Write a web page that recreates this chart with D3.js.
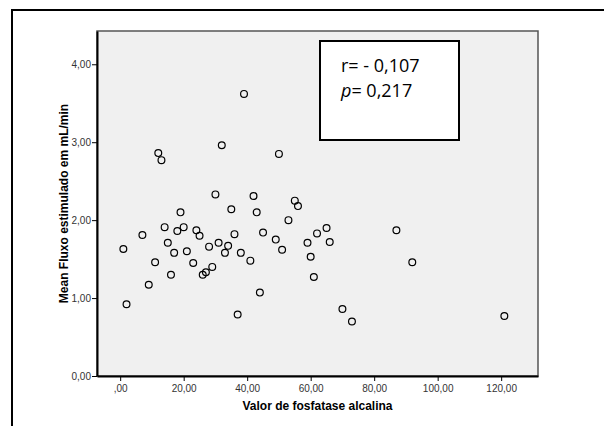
<!DOCTYPE html>
<html>
<head>
<meta charset="utf-8">
<script src="https://cdn.jsdelivr.net/npm/d3@7"></script>
<style>
  body { margin: 0; background: #fff; }
  svg { display: block; }
</style>
</head>
<body>
<svg id="chart" width="604" height="426"></svg>
<script>
// fosfatase alcalina (x) vs mean fluxo estimulado (y)
const fosfatase = [1, 2, 7, 9, 11, 12, 13, 14, 15, 16, 17, 18, 19, 20, 21, 23, 24, 25, 26, 27,
  28, 29, 30, 31, 32, 33, 34, 35, 36, 37, 38, 39, 41, 42, 43, 44, 45, 49, 50, 51,
  53, 55, 56, 59, 60, 61, 62, 65, 66, 70, 73, 87, 92, 121];
const fluxo = [1.63, 0.92, 1.81, 1.17, 1.46, 2.86, 2.77, 1.91, 1.71, 1.30, 1.58, 1.86, 2.10, 1.91, 1.60, 1.45, 1.87, 1.80, 1.30, 1.33,
  1.66, 1.40, 2.33, 1.71, 2.96, 1.58, 1.67, 2.14, 1.82, 0.79, 1.58, 3.62, 1.48, 2.31, 2.10, 1.07, 1.84, 1.75, 2.85, 1.62,
  2.00, 2.25, 2.18, 1.71, 1.53, 1.27, 1.83, 1.90, 1.72, 0.86, 0.70, 1.87, 1.46, 0.77];
const xTicks = [0, 20, 40, 60, 80, 100, 120];
const yTicks = [0, 1, 2, 3, 4];
const statLines = ['r= - 0,107', '0,217'];

const fmt = v => d3.format('.2f')(v).replace('.', ',').replace(/^0,/, v === 0 ? '0,' : ',');
const fmtY = v => d3.format('.2f')(v).replace('.', ',');

const svg = d3.select('#chart');
const plot = { left: 97, right: 538, top: 31, bottom: 376 };

const x = d3.scaleLinear().domain([-7.3, 131.6]).range([plot.left, plot.right]);
const y = d3.scaleLinear().domain([0, 4.427]).range([plot.bottom, plot.top]);

// outer frame (only top and left visible)
svg.append('path')
  .attr('d', 'M12,426 L12,10 L604,10')
  .attr('fill', 'none')
  .attr('stroke', '#000')
  .attr('stroke-width', 2);

// data area
svg.append('rect')
  .attr('x', plot.left).attr('y', plot.top)
  .attr('width', plot.right - plot.left).attr('height', plot.bottom - plot.top)
  .attr('fill', '#f0f0f0')
  .attr('stroke', '#555')
  .attr('stroke-width', 1.5);

// axes
const xAxis = svg.append('g')
  .attr('transform', `translate(0,${plot.bottom})`)
  .call(d3.axisBottom(x).tickValues(xTicks).tickSize(5).tickSizeOuter(0)
    .tickFormat(d => d === 0 ? ',00' : fmtY(d)));
const yAxis = svg.append('g')
  .attr('transform', `translate(${plot.left},0)`)
  .call(d3.axisLeft(y).tickValues(yTicks).tickSize(5).tickSizeOuter(0).tickFormat(fmtY));

[xAxis, yAxis].forEach(g => {
  g.select('.domain').attr('stroke', '#000').attr('stroke-width', 2);
  g.selectAll('.tick line').attr('stroke', '#000').attr('stroke-width', 1);
  g.selectAll('.tick text')
    .attr('font-family', 'Liberation Sans, Arial, sans-serif')
    .attr('font-size', 10)
    .attr('fill', '#333');
});
xAxis.selectAll('.tick text').attr('dy', '0.95em').attr('y', 6);
yAxis.selectAll('.tick text').attr('x', -6);

// points
svg.append('g')
  .selectAll('circle')
  .data(fosfatase.map((v, i) => [v, fluxo[i]]))
  .join('circle')
  .attr('cx', d => x(d[0]))
  .attr('cy', d => y(d[1]))
  .attr('r', 3.4)
  .attr('fill', 'none')
  .attr('stroke', '#000')
  .attr('stroke-width', 1.2);

// correlation box
svg.append('rect')
  .attr('x', 320).attr('y', 41)
  .attr('width', 139).attr('height', 99)
  .attr('fill', '#fff')
  .attr('stroke', '#000')
  .attr('stroke-width', 2);

const stat = svg.append('g')
  .attr('font-family', 'Open Sans, sans-serif')
  .attr('font-size', 18)
  .attr('fill', '#000');
stat.append('text').attr('x', 341).attr('y', 72).text(statLines[0]);
const pLine = stat.append('text').attr('x', 341).attr('y', 97);
pLine.append('tspan').attr('font-style', 'italic').text('p');
pLine.append('tspan').text('= ' + statLines[1]);

// axis titles
svg.append('text')
  .attr('x', (plot.left + plot.right) / 2).attr('y', 410)
  .attr('text-anchor', 'middle')
  .attr('font-family', 'Liberation Sans, Arial, sans-serif')
  .attr('font-size', 12).attr('font-weight', 'bold')
  .text('Valor de fosfatase alcalina');

svg.append('text')
  .attr('transform', `translate(68,${(plot.top + plot.bottom) / 2}) rotate(-90)`)
  .attr('text-anchor', 'middle')
  .attr('font-family', 'Liberation Sans, Arial, sans-serif')
  .attr('font-size', 12).attr('font-weight', 'bold')
  .text('Mean Fluxo estimulado em mL/min');
</script>
</body>
</html>
